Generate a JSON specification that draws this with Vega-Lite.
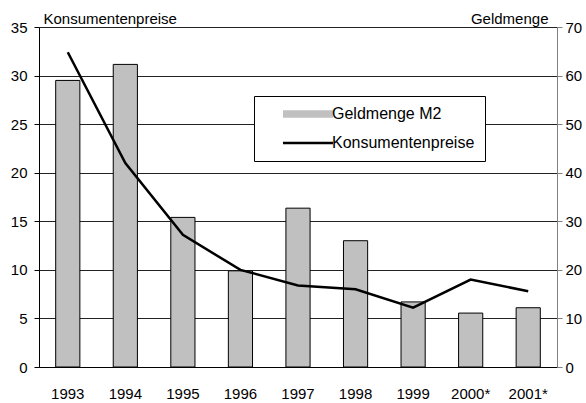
{
  "$schema": "https://vega.github.io/schema/vega-lite/v6.json",
  "width": 518,
  "height": 340,
  "autosize": {"type": "none"},
  "padding": {"left": 39, "top": 27, "right": 29, "bottom": 36},
  "background": "white",
  "config": {
    "view": {"stroke": null},
    "font": "Liberation Sans",
    "axis": {"labelFont": "Liberation Sans", "labelFontSize": 15, "labelColor": "black", "titleFont": "Liberation Sans", "titleFontSize": 15, "titleFontWeight": "normal", "titleColor": "black"}
  },
  "data": {
    "values": [
      {"jahr": "1993", "geldmenge": 59.0, "preise": 32.4},
      {"jahr": "1994", "geldmenge": 62.3, "preise": 21.0},
      {"jahr": "1995", "geldmenge": 30.8, "preise": 13.6},
      {"jahr": "1996", "geldmenge": 19.8, "preise": 10.0},
      {"jahr": "1997", "geldmenge": 32.7, "preise": 8.4},
      {"jahr": "1998", "geldmenge": 26.0, "preise": 8.0},
      {"jahr": "1999", "geldmenge": 13.4, "preise": 6.1},
      {"jahr": "2000*", "geldmenge": 11.1, "preise": 9.0},
      {"jahr": "2001*", "geldmenge": 12.2, "preise": 7.8}
    ]
  },
  "encoding": {
    "x": {
      "field": "jahr", "type": "nominal", "sort": null,
      "scale": {"paddingInner": 0, "paddingOuter": 0},
      "axis": {"title": null, "labelAngle": 0, "ticks": false, "labelPadding": 19, "domainColor": "black", "grid": false}
    }
  },
  "layer": [
    {
      "mark": {"type": "bar", "width": {"band": 0.42}, "stroke": "black", "strokeWidth": 1},
      "encoding": {
        "y": {
          "field": "geldmenge", "type": "quantitative",
          "scale": {"domain": [0, 70], "nice": false},
          "axis": {"orient": "right", "title": "Geldmenge", "titleAngle": 0, "titleAlign": "right", "titleBaseline": "alphabetic", "titleX": -9, "titleY": -4, "values": [0, 10, 20, 30, 40, 50, 60, 70], "grid": false, "domainColor": "#808080", "tickColor": "#808080", "tickSize": 5, "labelPadding": 3}
        },
        "fill": {
          "datum": "Geldmenge M2",
          "type": "nominal",
          "scale": {"domain": ["Geldmenge M2", "Konsumentenpreise"], "range": ["#c0c0c0", "transparent"]},
          "legend": {
            "title": null,
            "orient": "none",
            "legendX": 215,
            "legendY": 69,
            "padding": 10,
            "rowPadding": 13,
            "strokeColor": "black",
            "fillColor": "white",
            "cornerRadius": 0,
            "labelFont": "Liberation Sans",
            "labelFontSize": 16,
            "labelColor": "black",
            "labelLimit": 300,
            "symbolType": "M-5.56,-0.83H5.56V0.83H-5.56Z",
            "symbolSize": 81,
            "symbolStrokeWidth": 0,
            "symbolOpacity": 1,
            "symbolOffset": 36,
            "labelOffset": 16
          }
        }
      }
    },
    {
      "mark": {"type": "line", "strokeWidth": 2.5},
      "encoding": {
        "y": {
          "field": "preise", "type": "quantitative",
          "scale": {"domain": [0, 35], "nice": false},
          "axis": {"orient": "left", "title": "Konsumentenpreise", "titleAngle": 0, "titleAlign": "left", "titleBaseline": "alphabetic", "titleX": 4, "titleY": -4, "values": [0, 5, 10, 15, 20, 25, 30, 35], "grid": true, "gridColor": "#222", "gridOpacity": 1, "domainColor": "black", "tickColor": "black", "tickSize": 5, "labelPadding": 7}
        },
        "stroke": {
          "datum": "Konsumentenpreise",
          "type": "nominal",
          "scale": {"domain": ["Konsumentenpreise"], "range": ["black"]},
          "legend": {
            "title": null,
            "orient": "none",
            "legendX": 225,
            "legendY": 108,
            "padding": 0,
            "labelFont": "Liberation Sans",
            "labelFontSize": 16,
            "labelExpr": "''",
            "symbolType": "M-5.56,0H5.56",
            "symbolSize": 81,
            "symbolStrokeWidth": 2.5,
            "symbolOpacity": 1,
            "symbolOffset": 36,
            "labelOffset": 16
          }
        }
      }
    }
  ],
  "resolve": {"scale": {"y": "independent"}}
}
